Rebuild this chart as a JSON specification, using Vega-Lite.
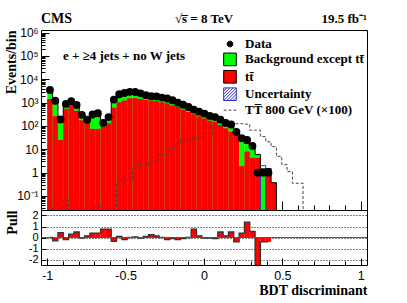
{
  "$schema": "https://vega.github.io/schema/vega-lite/v6.json",
  "background": "white",
  "padding": {"left": 4, "top": 11, "right": 5, "bottom": 5},
  "spacing": 0,
  "bounds": "flush",
  "config": {
    "font": "Liberation Serif",
    "view": {"stroke": "black", "strokeWidth": 1},
    "axis": {"labelFont": "Liberation Sans", "labelFontSize": 12, "labelColor": "black", "tickColor": "black", "tickWidth": 1, "domain": false, "grid": false, "labelFlush": false, "titleFont": "Liberation Serif", "titleFontWeight": "bold", "titleFontSize": 14, "titleColor": "black"},
    "legend": {"labelFont": "Liberation Serif", "labelFontWeight": "bold", "labelFontSize": 13, "labelColor": "black", "symbolSize": 160, "symbolStrokeWidth": 1, "symbolOpacity": 1, "rowPadding": -0.6, "padding": 0, "labelOffset": 8, "labelLimit": 400}
  },
  "datasets": {
    "bins": [
      {"x0": -1.000, "x1": -0.966, "x": -0.983, "data": 3500, "tot": 3600, "tt": 1450, "sig": 0.038, "pull": 0},
      {"x0": -0.966, "x1": -0.932, "x": -0.949, "data": 1200, "tot": 1400, "tt": 260, "sig": 0.001, "pull": -0.3},
      {"x0": -0.932, "x1": -0.898, "x": -0.915, "data": 190, "tot": 170, "tt": 25, "sig": 0.001, "pull": 0.45},
      {"x0": -0.898, "x1": -0.864, "x": -0.881, "data": 880, "tot": 950, "tt": 550, "sig": 0.063, "pull": -0.2},
      {"x0": -0.864, "x1": -0.830, "x": -0.847, "data": 1150, "tot": 1080, "tt": 760, "sig": 0.001, "pull": 0.3},
      {"x0": -0.830, "x1": -0.796, "x": -0.813, "data": 790, "tot": 720, "tt": 450, "sig": 0.001, "pull": 0.5},
      {"x0": -0.796, "x1": -0.762, "x": -0.779, "data": 300, "tot": 305, "tt": 175, "sig": 0.001, "pull": -0.05},
      {"x0": -0.762, "x1": -0.728, "x": -0.745, "data": 185, "tot": 180, "tt": 140, "sig": 0.001, "pull": 0.15},
      {"x0": -0.728, "x1": -0.694, "x": -0.711, "data": 310, "tot": 290, "tt": 75, "sig": 0.001, "pull": 0.4},
      {"x0": -0.694, "x1": -0.660, "x": -0.677, "data": 350, "tot": 330, "tt": 75, "sig": 0.035, "pull": 0.4},
      {"x0": -0.660, "x1": -0.626, "x": -0.643, "data": 135, "tot": 120, "tt": 95, "sig": 0.001, "pull": 0.75},
      {"x0": -0.626, "x1": -0.592, "x": -0.609, "data": 240, "tot": 215, "tt": 130, "sig": 0.001, "pull": 0.75},
      {"x0": -0.592, "x1": -0.558, "x": -0.575, "data": 1350, "tot": 1450, "tt": 600, "sig": 0.001, "pull": -0.35},
      {"x0": -0.558, "x1": -0.524, "x": -0.541, "data": 2300, "tot": 2250, "tt": 1050, "sig": 0.39, "pull": 0.1},
      {"x0": -0.524, "x1": -0.490, "x": -0.507, "data": 2600, "tot": 2700, "tt": 1230, "sig": 0.6, "pull": -0.2},
      {"x0": -0.490, "x1": -0.456, "x": -0.473, "data": 2900, "tot": 2900, "tt": 1550, "sig": 0.44, "pull": 0},
      {"x0": -0.456, "x1": -0.422, "x": -0.439, "data": 2850, "tot": 2820, "tt": 1600, "sig": 1.4, "pull": 0.05},
      {"x0": -0.422, "x1": -0.388, "x": -0.405, "data": 2500, "tot": 2540, "tt": 1450, "sig": 2.2, "pull": -0.05},
      {"x0": -0.388, "x1": -0.354, "x": -0.371, "data": 2100, "tot": 2060, "tt": 1300, "sig": 2.2, "pull": 0.1},
      {"x0": -0.354, "x1": -0.320, "x": -0.337, "data": 1900, "tot": 1850, "tt": 1230, "sig": 3.1, "pull": 0.25},
      {"x0": -0.320, "x1": -0.286, "x": -0.303, "data": 1850, "tot": 1830, "tt": 1150, "sig": 3.1, "pull": 0.15},
      {"x0": -0.286, "x1": -0.252, "x": -0.269, "data": 1650, "tot": 1650, "tt": 1050, "sig": 5.9, "pull": 0},
      {"x0": -0.252, "x1": -0.218, "x": -0.235, "data": 1500, "tot": 1540, "tt": 950, "sig": 5.9, "pull": -0.2},
      {"x0": -0.218, "x1": -0.184, "x": -0.201, "data": 1260, "tot": 1290, "tt": 760, "sig": 11, "pull": -0.1},
      {"x0": -0.184, "x1": -0.150, "x": -0.167, "data": 1000, "tot": 1040, "tt": 650, "sig": 18, "pull": -0.2},
      {"x0": -0.150, "x1": -0.116, "x": -0.133, "data": 810, "tot": 830, "tt": 500, "sig": 25, "pull": -0.1},
      {"x0": -0.116, "x1": -0.082, "x": -0.099, "data": 650, "tot": 660, "tt": 400, "sig": 25, "pull": 0},
      {"x0": -0.082, "x1": -0.048, "x": -0.065, "data": 500, "tot": 470, "tt": 320, "sig": 30, "pull": 0.75},
      {"x0": -0.048, "x1": -0.014, "x": -0.031, "data": 410, "tot": 400, "tt": 260, "sig": 30, "pull": 0.15},
      {"x0": -0.014, "x1": 0.020, "x": 0.003, "data": 340, "tot": 340, "tt": 210, "sig": 48, "pull": -0.05},
      {"x0": 0.020, "x1": 0.054, "x": 0.037, "data": 270, "tot": 272, "tt": 170, "sig": 48, "pull": -0.05},
      {"x0": 0.054, "x1": 0.088, "x": 0.071, "data": 240, "tot": 243, "tt": 150, "sig": 90, "pull": -0.1},
      {"x0": 0.088, "x1": 0.122, "x": 0.105, "data": 186, "tot": 175, "tt": 110, "sig": 90, "pull": 0.5},
      {"x0": 0.122, "x1": 0.156, "x": 0.139, "data": 135, "tot": 132, "tt": 80, "sig": 100, "pull": 0.15},
      {"x0": 0.156, "x1": 0.190, "x": 0.173, "data": 115, "tot": 105, "tt": 56, "sig": 135, "pull": 0.5},
      {"x0": 0.190, "x1": 0.224, "x": 0.207, "data": 55, "tot": 60, "tt": 38, "sig": 125, "pull": -0.4},
      {"x0": 0.224, "x1": 0.258, "x": 0.241, "data": 30, "tot": 28, "tt": 1.9, "sig": 125, "pull": 0.4},
      {"x0": 0.258, "x1": 0.292, "x": 0.275, "data": 25, "tot": 18, "tt": 8, "sig": 120, "pull": 1.4},
      {"x0": 0.292, "x1": 0.326, "x": 0.309, "data": 14, "tot": 12, "tt": 4.3, "sig": 66, "pull": 0.55},
      {"x0": 0.326, "x1": 0.360, "x": 0.343, "data": 1, "tot": 6, "tt": 4.3, "sig": 66, "pull": -2.8},
      {"x0": 0.360, "x1": 0.394, "x": 0.377, "data": 1, "tot": 1.45, "tt": 0.001, "sig": 35, "pull": -0.4, "ulo": 0.001, "uhi": 2.0},
      {"x0": 0.394, "x1": 0.428, "x": 0.411, "data": 1, "tot": 1.5, "tt": 1.45, "sig": 21, "pull": -0.4},
      {"x0": 0.428, "x1": 0.462, "x": 0.445, "data": null, "tot": 0.37, "tt": 0.37, "sig": 13, "pull": null},
      {"x0": 0.462, "x1": 0.496, "x": 0.479, "data": null, "tot": 0.001, "tt": 0.001, "sig": 5, "pull": null},
      {"x0": 0.496, "x1": 0.530, "x": 0.513, "data": null, "tot": null, "tt": null, "sig": 2.2, "pull": null},
      {"x0": 0.530, "x1": 0.564, "x": 0.547, "data": null, "tot": null, "tt": null, "sig": 1.1, "pull": null},
      {"x0": 0.564, "x1": 0.598, "x": 0.581, "data": null, "tot": null, "tt": null, "sig": 0.35, "pull": null},
      {"x0": 0.598, "x1": 0.632, "x": 0.615, "data": null, "tot": null, "tt": null, "sig": 0.35, "pull": null},
      {"x0": 0.632, "x1": 0.666, "x": 0.649, "data": null, "tot": null, "tt": null, "sig": 0.001, "pull": null}
    ]
  },
  "resolve": {
    "scale": {"fill": "independent", "stroke": "independent", "shape": "independent"},
    "legend": {"fill": "independent", "stroke": "independent", "shape": "independent"}
  },
  "vconcat": [
    {
      "width": 326,
      "height": 180,
      "data": {"name": "bins"},
      "layer": [
        {
          "mark": {"type": "rect", "clip": true},
          "encoding": {
            "x": {"field": "x0", "type": "quantitative", "scale": {"domain": [-1.04, 1.04], "nice": false, "zero": false},
              "axis": {"values": [-1,-0.9,-0.8,-0.7,-0.6,-0.5,-0.4,-0.3,-0.2,-0.1,0,0.1,0.2,0.3,0.4,0.5,0.6,0.7,0.8,0.9,1], "tickCount": 200, "labels": false, "title": null,
                "tickSize": {"condition": {"test": "abs(datum.value*2 - round(datum.value*2)) < 0.01", "value": -9}, "value": -5}}},
            "x2": {"field": "x1"},
            "y": {"field": "tot", "type": "quantitative", "scale": {"type": "log", "domain": [0.025, 1300000], "nice": false},
              "axis": {"values": [0.03,0.04,0.05,0.06,0.07,0.08,0.09,0.1,0.2,0.3,0.4,0.5,0.6,0.7,0.8,0.9,1,2,3,4,5,6,7,8,9,10,20,30,40,50,60,70,80,90,100,200,300,400,500,600,700,800,900,1000,2000,3000,4000,5000,6000,7000,8000,9000,10000,20000,30000,40000,50000,60000,70000,80000,90000,100000,200000,300000,400000,500000,600000,700000,800000,900000,1000000],
                "tickCount": 200,
                "labelExpr": "datum.value > 0.099 && datum.value < 0.101 ? '10⁻¹' : datum.value > 0.99 && datum.value < 1.01 ? '1' : datum.value > 9.9 && datum.value < 10.1 ? '10' : datum.value > 99 && datum.value < 101 ? '10²' : datum.value > 990 && datum.value < 1010 ? '10³' : datum.value > 9900 && datum.value < 10100 ? '10⁴' : datum.value > 99000 && datum.value < 101000 ? '10⁵' : datum.value > 990000 && datum.value < 1010000 ? '10⁶' : ''",
                "labelOverlap": false,
                "tickSize": {"condition": {"test": "abs(log(datum.value)/LN10 - round(log(datum.value)/LN10)) < 0.001", "value": -8}, "value": -4},
                "labelPadding": 11,
                "title": "Events/bin", "titleAnchor": "end", "titlePadding": -2}},
            "y2": {"datum": 0.001},
            "fill": {"datum": "Background except tt\u0304", "type": "nominal",
              "scale": {"domain": ["Data", "Background except tt\u0304", "tt\u0304", "Uncertainty", "TT\u0305 800 GeV (×100)"], "range": ["black", "#00ff00", "#ff0000", "white", "transparent"]},
              "legend": {"title": null, "orient": "none", "legendX": 182, "legendY": 7}}
          }
        },
        {
          "mark": {"type": "rect", "clip": true},
          "encoding": {
            "x": {"field": "x0", "type": "quantitative"},
            "x2": {"field": "x1"},
            "y": {"field": "tt", "type": "quantitative"},
            "y2": {"datum": 0.001},
            "fill": {"datum": "tt\u0304", "type": "nominal"}
          }
        },
        {
          "mark": {"type": "rect", "filled": false, "stroke": "#3333cc", "strokeWidth": 1, "clip": true},
          "encoding": {
            "x": {"field": "x0", "type": "quantitative"},
            "x2": {"field": "x1"},
            "y": {"field": "uhi", "type": "quantitative"},
            "y2": {"field": "ulo"}
          }
        },
        {
          "mark": {"type": "line", "interpolate": "step", "color": "black", "strokeWidth": 1, "clip": true},
          "encoding": {
            "x": {"field": "x", "type": "quantitative"},
            "y": {"field": "tot", "type": "quantitative"}
          }
        },
        {
          "mark": {"type": "line", "interpolate": "step", "strokeDash": [3, 2], "strokeWidth": 1, "clip": true},
          "encoding": {
            "x": {"field": "x", "type": "quantitative"},
            "y": {"field": "sig", "type": "quantitative"},
            "stroke": {"datum": "TT\u0305 800 GeV (×100)", "type": "nominal",
              "scale": {"domain": ["Data", "Background except tt\u0304", "tt\u0304", "Uncertainty", "TT\u0305 800 GeV (×100)"], "range": ["black", "black", "black", "#3333cc", "#444444"]},
              "legend": {"title": null, "orient": "none", "legendX": 182, "legendY": 7}}
          }
        },
        {
          "mark": {"type": "point", "filled": true, "size": 170, "opacity": 1, "clip": true},
          "encoding": {
            "x": {"field": "x", "type": "quantitative"},
            "y": {"field": "data", "type": "quantitative"},
            "fill": {"datum": "Data", "type": "nominal"},
            "stroke": {"datum": "Data", "type": "nominal"},
            "shape": {"datum": "Data", "type": "nominal",
              "scale": {"domain": ["Data", "Background except tt\u0304", "tt\u0304", "Uncertainty", "TT\u0305 800 GeV (×100)"],
                "range": ["M-0.45,0A0.45,0.45,0,1,1,0.45,0A0.45,0.45,0,1,1,-0.45,0Z", "square", "square", "M-1,-1H1V1H-1Z M-1,-0.5L-0.5,-1 M-1,0L0,-1 M-1,0.5L0.5,-1 M-1,1L1,-1 M-0.5,1L1,-0.5 M0,1L1,0 M0.5,1L1,0.5", "M-1,0H-0.55M-0.22,0H0.22M0.55,0H1"]},
              "legend": {"title": null, "orient": "none", "legendX": 182, "legendY": 7}}
          }
        },
        {
          "data": {"values": [{"label": "CMS", "px": -1.04, "py": 3850000}]},
          "mark": {"type": "text", "align": "left", "baseline": "middle", "font": "Liberation Serif", "fontWeight": "bold", "fontSize": 14, "color": "black", "clip": false},
          "encoding": {"x": {"field": "px", "type": "quantitative"}, "y": {"field": "py", "type": "quantitative"}, "text": {"field": "label"}}
        },
        {
          "data": {"values": [{"label": "√s\u0305 = 8 TeV", "px": 0.0, "py": 3850000}]},
          "mark": {"type": "text", "align": "center", "baseline": "middle", "font": "Liberation Serif", "fontWeight": "bold", "fontSize": 13, "color": "black", "clip": false},
          "encoding": {"x": {"field": "px", "type": "quantitative"}, "y": {"field": "py", "type": "quantitative"}, "text": {"field": "label"}}
        },
        {
          "data": {"values": [{"label": "19.5 fb\u207b\u00b9", "px": 1.04, "py": 3850000}]},
          "mark": {"type": "text", "align": "right", "baseline": "middle", "font": "Liberation Serif", "fontWeight": "bold", "fontSize": 13, "color": "black", "clip": false},
          "encoding": {"x": {"field": "px", "type": "quantitative"}, "y": {"field": "py", "type": "quantitative"}, "text": {"field": "label"}}
        },
        {
          "data": {"values": [{"label": "e + ≥4 jets + no W jets", "px": -0.9, "py": 100000}]},
          "mark": {"type": "text", "align": "left", "baseline": "middle", "font": "Liberation Serif", "fontWeight": "bold", "fontSize": 13, "color": "black", "clip": false},
          "encoding": {"x": {"field": "px", "type": "quantitative"}, "y": {"field": "py", "type": "quantitative"}, "text": {"field": "label"}}
        }
      ]
    },
    {
      "width": 326,
      "height": 55,
      "data": {"name": "bins"},
      "layer": [
        {
          "mark": {"type": "rect", "color": "#ff0000", "clip": true},
          "encoding": {
            "x": {"field": "x0", "type": "quantitative", "scale": {"domain": [-1.04, 1.04], "nice": false},
              "axis": {"values": [-1,-0.9,-0.8,-0.7,-0.6,-0.5,-0.4,-0.3,-0.2,-0.1,0,0.1,0.2,0.3,0.4,0.5,0.6,0.7,0.8,0.9,1], "tickCount": 200,
                "labelExpr": "abs(datum.value*2 - round(datum.value*2)) < 0.01 ? '' + round(datum.value*2)/2 : ''",
                "labelOverlap": false, "labelFontSize": 12.5,
                "tickSize": {"condition": {"test": "abs(datum.value*2 - round(datum.value*2)) < 0.01", "value": -7}, "value": -4},
                "labelPadding": 11,
                "title": "BDT discriminant", "titleAnchor": "end", "titlePadding": -1}},
            "x2": {"field": "x1"},
            "y": {"field": "pull", "type": "quantitative", "scale": {"domain": [-2.5, 2.5], "nice": false},
              "axis": {"values": [-2, -1, 0, 1, 2], "tickCount": 200, "labelExpr": "'' + datum.value", "labelOverlap": false, "labelFontSize": 11, "grid": true, "gridDash": [1, 2], "gridColor": "black", "gridWidth": 1,
                "tickSize": -5, "labelPadding": 8, "title": "Pull", "titleAnchor": "end", "titlePadding": 9}},
            "y2": {"datum": 0}
          }
        },
        {
          "mark": {"type": "line", "interpolate": "step", "color": "#333333", "strokeWidth": 1.3, "clip": true},
          "encoding": {
            "x": {"field": "x", "type": "quantitative"},
            "y": {"field": "pull", "type": "quantitative"}
          }
        },
        {
          "mark": {"type": "rule", "color": "#555555", "strokeWidth": 1},
          "encoding": {"y": {"datum": 0}}
        }
      ]
    }
  ]
}
